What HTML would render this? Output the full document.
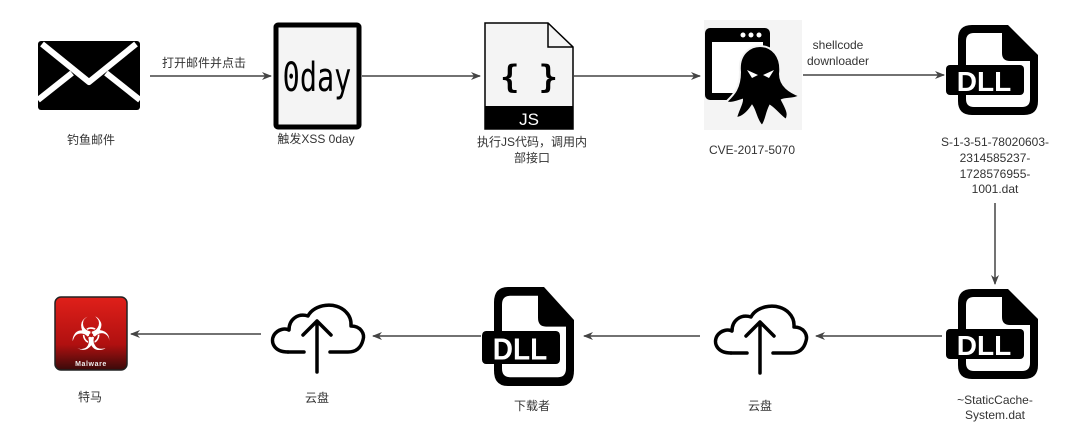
<!DOCTYPE html>
<html><head><meta charset="utf-8"><style>
html,body{margin:0;padding:0;background:#fff;}
svg{display:block;}
text{font-family:"Liberation Sans","Noto Sans CJK SC",sans-serif;font-size:12px;fill:#333;}
</style></head><body>
<svg width="1079" height="440" viewBox="0 0 1079 440" xmlns="http://www.w3.org/2000/svg">
<defs>
<marker id="ar" markerWidth="10" markerHeight="8" refX="9" refY="4" orient="auto" markerUnits="userSpaceOnUse">
<path d="M0,0 L10,4 L0,8 L3,4 Z" fill="#444"/></marker>
<g id="dll">
<path d="M26,0 H62 L92,30 V76 Q92,90 78,90 H26 Q12,90 12,76 V14 Q12,0 26,0 Z" fill="#000"/>
<path d="M28,8 H56 V28 Q56,36 64,36 H84 V74 Q84,82 76,82 H28 Q20,82 20,74 V16 Q20,8 28,8 Z" fill="#fff"/>
<rect x="0" y="40" width="78" height="30" rx="4" fill="#000"/>
<text x="38" y="66" text-anchor="middle" style="font-size:28px;font-weight:bold;fill:#fff;font-family:'Liberation Sans',sans-serif">DLL</text>
</g>
<g id="cloud">
<path d="M20,54 C6,54 2,44 6,37 C10,31 17,30 21,32 C21,21 30,15 40,18 C46,6 68,3 78,14 C84,20 83,27 83,28 C93,28 97,36 95,42 C93,50 88,54 80,54 H62" fill="none" stroke="#000" stroke-width="3.5" stroke-linejoin="round" stroke-linecap="round"/>
<path d="M20,54 H36" fill="none" stroke="#000" stroke-width="3.5" stroke-linecap="round"/>
<path d="M49,74 V23 M35,37 L49,23 L63,37" fill="none" stroke="#000" stroke-width="3.5" stroke-linecap="round" stroke-linejoin="round"/>
</g>
<linearGradient id="rg" x1="0" y1="0" x2="0" y2="1"><stop offset="0" stop-color="#e0201a"/><stop offset="0.65" stop-color="#b01010"/><stop offset="1" stop-color="#3a0a0a"/></linearGradient>
</defs>

<!-- mail -->
<rect x="38" y="41" width="102" height="69" rx="3" fill="#000"/>
<path d="M42,44 L89,82 L136,44" fill="none" stroke="#fff" stroke-width="6" stroke-linejoin="round"/>
<path d="M38,100 L72,73 M140,100 L106,73" stroke="#fff" stroke-width="6"/>
<text x="91" y="144" text-anchor="middle">钓鱼邮件</text>

<line x1="150" y1="76" x2="271" y2="76" stroke="#444" stroke-width="1.5" marker-end="url(#ar)"/>
<text x="204" y="67" text-anchor="middle">打开邮件并点击</text>

<!-- 0day -->
<rect x="276" y="25" width="83" height="102" fill="#f4f4f4" stroke="#000" stroke-width="5" rx="2"/>
<text x="317" y="87" text-anchor="middle" style="font-family:'DejaVu Sans Mono',monospace;font-size:30px;fill:#000;" transform="translate(317,76) scale(0.95,1.35) translate(-317,-76)">0day</text>
<text x="316" y="143" text-anchor="middle">触发XSS 0day</text>

<line x1="362" y1="76" x2="480" y2="76" stroke="#444" stroke-width="1.5" marker-end="url(#ar)"/>

<!-- JS file -->
<path d="M485,23 H548 L573,47 V129 H485 Z" fill="#f4f4f4" stroke="#000" stroke-width="1.5"/>
<path d="M548,23 V47 H573" fill="none" stroke="#000" stroke-width="1.5"/>
<rect x="485" y="106" width="88" height="23" fill="#000"/>
<text x="529" y="125" text-anchor="middle" style="font-size:17px;fill:#fff;">JS</text>
<text x="529" y="88" text-anchor="middle" style="font-size:32px;font-weight:bold;fill:#000;font-family:'DejaVu Sans Mono',monospace;">{ }</text>
<text x="532" y="146" text-anchor="middle">执行JS代码，调用内</text>
<text x="532" y="162" text-anchor="middle">部接口</text>

<line x1="574" y1="76" x2="700" y2="76" stroke="#444" stroke-width="1.5" marker-end="url(#ar)"/>

<!-- CVE -->
<rect x="704" y="20" width="98" height="110" fill="#f4f4f4"/>
<rect x="705" y="28" width="65" height="72" rx="5" fill="#000"/>
<rect x="712" y="42" width="51" height="51" fill="#fff"/>
<circle cx="743" cy="35" r="2.5" fill="#fff"/><circle cx="751" cy="35" r="2.5" fill="#fff"/><circle cx="759" cy="35" r="2.5" fill="#fff"/>
<path d="M740,72 C738,52 752,46 760,46 C772,46 782,56 780,74 C780,86 790,92 800,96 C792,100 786,98 782,100 C786,108 790,114 786,120 C780,116 776,110 770,106 C766,114 766,122 762,126 C756,120 756,112 752,106 C748,112 742,118 736,118 C738,110 742,104 742,100 C736,102 730,104 726,102 C732,96 740,90 740,72 Z" fill="#000" stroke="#f4f4f4" stroke-width="2"/>
<path d="M747,70 L758,75 L752,78 Z M774,70 L763,75 L769,78 Z" fill="#fff"/>
<text x="752" y="154" text-anchor="middle">CVE-2017-5070</text>

<line x1="803" y1="75" x2="944" y2="75" stroke="#444" stroke-width="1.5" marker-end="url(#ar)"/>
<text x="838" y="49" text-anchor="middle">shellcode</text>
<text x="838" y="65" text-anchor="middle">downloader</text>

<!-- DLL1 -->
<use href="#dll" x="946" y="25"/>
<text x="995" y="146" text-anchor="middle">S-1-3-51-78020603-</text>
<text x="995" y="162" text-anchor="middle">2314585237-</text>
<text x="995" y="178" text-anchor="middle">1728576955-</text>
<text x="995" y="193" text-anchor="middle">1001.dat</text>

<line x1="995" y1="203" x2="995" y2="284" stroke="#444" stroke-width="1.5" marker-end="url(#ar)"/>

<!-- DLL2 -->
<use href="#dll" x="946" y="289"/>
<text x="995" y="404" text-anchor="middle">~StaticCache-</text>
<text x="995" y="419" text-anchor="middle">System.dat</text>

<line x1="942" y1="336" x2="816" y2="336" stroke="#444" stroke-width="1.5" marker-end="url(#ar)"/>

<!-- cloud2 -->
<use href="#cloud" x="711" y="299"/>
<text x="760" y="410" text-anchor="middle">云盘</text>

<line x1="700" y1="336" x2="584" y2="336" stroke="#444" stroke-width="1.5" marker-end="url(#ar)"/>

<!-- DLL3 -->
<g transform="translate(482,287) scale(1,1.1)"><use href="#dll"/></g>
<text x="532" y="410" text-anchor="middle">下载者</text>

<line x1="481" y1="336" x2="373" y2="336" stroke="#444" stroke-width="1.5" marker-end="url(#ar)"/>

<!-- cloud1 -->
<use href="#cloud" x="268" y="298"/>
<text x="317" y="402" text-anchor="middle">云盘</text>

<line x1="261" y1="334" x2="131" y2="334" stroke="#444" stroke-width="1.5" marker-end="url(#ar)"/>

<!-- malware -->
<rect x="55" y="297" width="72" height="73" rx="6" fill="url(#rg)" stroke="#222" stroke-width="1.5"/>
<text x="91" y="350" text-anchor="middle" style="font-size:46px;fill:#fff;font-family:'DejaVu Sans',sans-serif;">☣</text>
<text x="91" y="366" text-anchor="middle" style="font-size:7px;fill:#eee;font-weight:bold;letter-spacing:0.6px;">Malware</text>
<text x="90" y="401" text-anchor="middle">特马</text>
</svg>
</body></html>
